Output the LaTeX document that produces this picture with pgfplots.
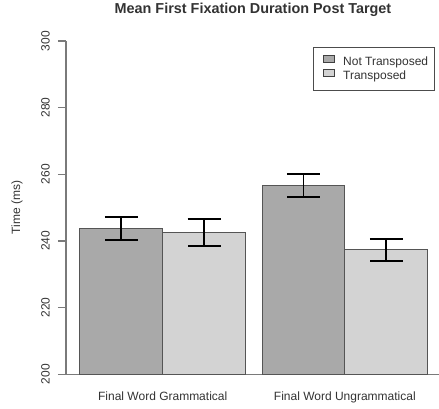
\documentclass[border=0pt]{standalone}
\usepackage{fontspec}
\setmainfont{Liberation Sans}
\usepackage{pgfplots}
\pgfplotsset{compat=1.18}

\definecolor{barDark}{HTML}{A9A9A9}
\definecolor{barLight}{HTML}{D3D3D3}
\definecolor{barEdge}{HTML}{555555}
\definecolor{axisGray}{HTML}{7A7A7A}
\definecolor{txt}{HTML}{333333}

\begin{document}
\begin{tikzpicture}
\begin{axis}[
  scale only axis,
  width=373pt, height=333.3pt,
  xmin=0.032, xmax=4.537,
  ymin=200, ymax=300,
  axis x line=bottom, axis y line=left,
  axis line style={-, draw=axisGray, line width=1.3pt},
  ytick={200,220,...,300},
  ytick align=outside,
  major tick length=8pt,
  ytick style={draw=axisGray, line width=1.3pt},
  xtick={1.2,3.4},
  xticklabels={Final Word Grammatical, Final Word Ungrammatical},
  xtick style={draw=none},
  /pgf/number format/assume math mode=true,
  ticklabel style={font=\fontsize{12}{14}\selectfont, text=txt},
  yticklabel style={rotate=90, anchor=south, inner sep=0pt},
  yticklabel shift=8pt,
  xticklabel style={anchor=base, inner sep=0pt, yshift=-17.7pt},
  ylabel={Time (ms)},
  ylabel style={at={(axis description cs:-0.1314,0.5)}, anchor=center,
    font=\fontsize{12}{14}\selectfont, text=txt},
  title={\textbf{Mean First Fixation Duration Post Target}},
  title style={at={(axis description cs:0.5013,1.0651)}, anchor=base,
    font=\fontsize{14.4}{16}\selectfont, text=txt},
  ybar, bar width=1, bar shift=0pt,
  legend style={at={(axis description cs:0.9893,0.982)}, anchor=north east,
    draw=black!70, line width=0.8pt, font=\fontsize{12}{14}\selectfont,
    text=txt, inner xsep=6pt, inner ysep=8pt, row sep=0pt, column sep=7.5pt,
    nodes={inner sep=0.5pt, text height=8.8pt, text depth=2.6pt}},
  legend cell align=left,
  error bars/y dir=both,
  error bars/y explicit,
  error bars/error bar style={black, line width=1.8pt},
  error bars/error mark options={black, line width=1.8pt, mark size=16.5pt, rotate=90},
]
% Not Transposed
\addplot[fill=barDark, draw=barEdge, line width=1pt,
  legend image code/.code={\path (0pt,0pt);
    \draw[fill=barDark, draw=black!75, line width=0.8pt] (4pt,0.5pt) rectangle (15pt,7pt);}]
  coordinates {(0.7,243.8) +- (0,3.4) (2.9,256.6) +- (0,3.4)};
% Transposed
\addplot[fill=barLight, draw=barEdge, line width=1pt,
  legend image code/.code={\path (0pt,0pt);
    \draw[fill=barLight, draw=black!75, line width=0.8pt] (4pt,0.5pt) rectangle (15pt,7pt);}]
  coordinates {(1.7,242.6) +- (0,4.0) (3.9,237.4) +- (0,3.3)};
\legend{Not Transposed, Transposed}
\end{axis}
\pgfresetboundingbox
\path[use as bounding box] (-66pt,-33.7pt) rectangle (373pt,374.3pt);
\end{tikzpicture}
\end{document}
